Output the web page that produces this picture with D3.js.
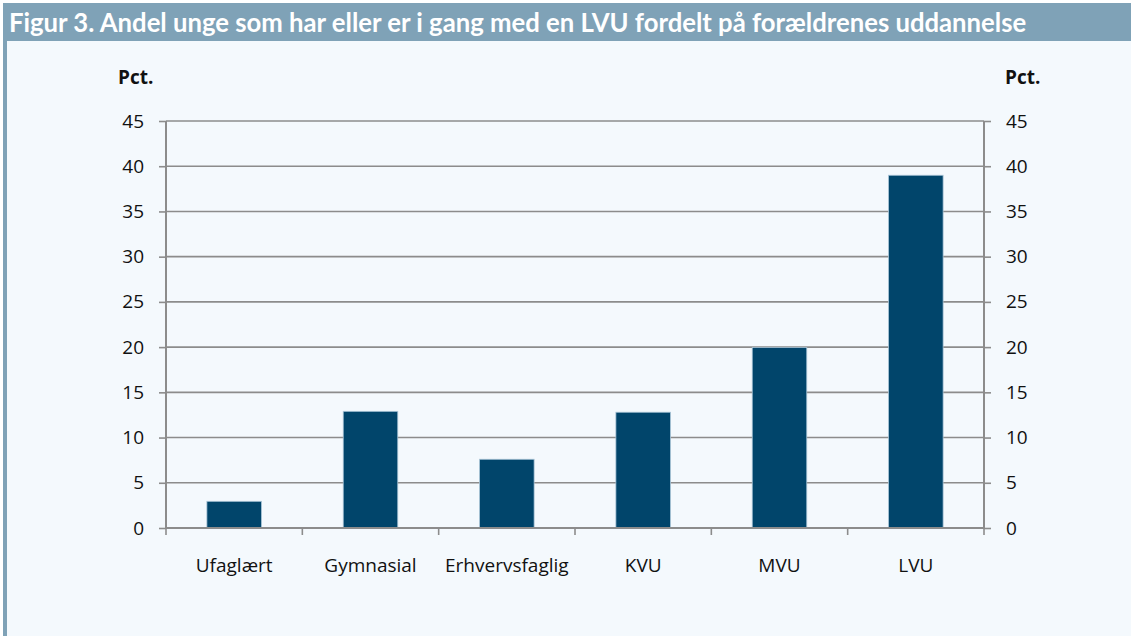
<!DOCTYPE html>
<html>
<head>
<meta charset="utf-8">
<script src="https://cdn.jsdelivr.net/npm/d3@7"></script>
<style>
  body { margin: 0; background: #fff; }
  svg { display: block; }
</style>
</head>
<body>
<svg id="chart" width="1131" height="636"></svg>
<script>
var categories = ["Ufaglært", "Gymnasial", "Erhvervsfaglig", "KVU", "MVU", "LVU"];
var values = [2.95, 12.9, 7.6, 12.8, 19.95, 39.0];
var yTicks = [0, 5, 10, 15, 20, 25, 30, 35, 40, 45];
var titleText = "Figur 3. Andel unge som har eller er i gang med en LVU fordelt på forældrenes uddannelse";
var unitLabel = "Pct.";

var svg = d3.select("#chart");
var W = 1131, H = 636;
var plotLeft = 166, plotRight = 984, plotTop = 121, plotBottom = 528;

// panel background + frame
svg.append("rect").attr("x", 3).attr("y", 3).attr("width", W - 3).attr("height", H - 3).attr("fill", "#f4f9fd");
svg.append("rect").attr("x", 3).attr("y", 3).attr("width", W - 3).attr("height", 38).attr("fill", "#7fa2b7");
svg.append("rect").attr("x", 3).attr("y", 41).attr("width", 4).attr("height", H - 41).attr("fill", "#7fa2b7");

svg.append("text")
    .attr("x", 9).attr("y", 32)
    .attr("fill", "#ffffff")
    .style("font-family", "Lato, 'Open Sans', sans-serif")
    .style("font-weight", "bold")
    .style("font-size", "25.7px")
    .text(titleText);

var x = d3.scaleBand().domain(categories).range([plotLeft, plotRight]).paddingInner(0.6).paddingOuter(0.3);
var y = d3.scaleLinear().domain([0, 45]).range([plotBottom, plotTop]);

// gridlines
svg.append("g").selectAll("line")
    .data(yTicks.filter(function(d) { return d > 0; }))
    .enter().append("line")
    .attr("x1", plotLeft).attr("x2", plotRight)
    .attr("y1", function(d) { return y(d); })
    .attr("y2", function(d) { return y(d); })
    .attr("stroke", "#8c8c8c")
    .attr("stroke-width", 1.6);

// bars
svg.append("g").selectAll("rect")
    .data(values)
    .enter().append("rect")
    .attr("x", function(d, i) { return x(categories[i]); })
    .attr("width", x.bandwidth())
    .attr("y", function(d) { return y(d); })
    .attr("height", function(d) { return y(0) - y(d); })
    .attr("fill", "#01456b")
    .attr("stroke", "#a9c4d6")
    .attr("stroke-width", 0.8);

var fontFam = "'Open Sans', 'Noto Sans', sans-serif";

var leftAxis = svg.append("g")
    .attr("transform", "translate(" + plotLeft + ",0)")
    .call(d3.axisLeft(y).tickValues(yTicks).tickSize(7).tickPadding(15));
var rightAxis = svg.append("g")
    .attr("transform", "translate(" + plotRight + ",0)")
    .call(d3.axisRight(y).tickValues(yTicks).tickSize(7).tickPadding(15));

[leftAxis, rightAxis].forEach(function(g) {
    g.select(".domain").attr("stroke", "#8c8c8c").attr("stroke-width", 2)
        .attr("d", "M0," + y(45) + "V" + (y(0) + 1));
    g.selectAll(".tick line").attr("stroke", "#8c8c8c").attr("stroke-width", 1.6);
    g.selectAll(".tick text")
        .attr("fill", "#111")
        .style("font-family", fontFam)
        .style("font-size", "19px");
});

// x axis baseline + category boundary ticks
var boundaries = [plotLeft].concat(categories.map(function(c, i) { return plotLeft + x.step() * (i + 1); }));
svg.append("line")
    .attr("x1", plotLeft).attr("x2", plotRight)
    .attr("y1", y(0)).attr("y2", y(0))
    .attr("stroke", "#8c8c8c").attr("stroke-width", 2);
svg.append("g").selectAll("line")
    .data(boundaries)
    .enter().append("line")
    .attr("x1", function(d) { return d; }).attr("x2", function(d) { return d; })
    .attr("y1", y(0)).attr("y2", y(0) + 7)
    .attr("stroke", "#8c8c8c").attr("stroke-width", 1.6);

svg.append("g").selectAll("text")
    .data(categories)
    .enter().append("text")
    .attr("x", function(d) { return x(d) + x.bandwidth() / 2; })
    .attr("y", 572)
    .attr("text-anchor", "middle")
    .attr("fill", "#111")
    .style("font-family", fontFam)
    .style("font-size", "19px")
    .text(function(d) { return d; });

// unit labels
svg.append("text").attr("x", 118).attr("y", 84)
    .attr("fill", "#111").style("font-family", fontFam).style("font-weight", "bold").style("font-size", "19px")
    .text(unitLabel);
svg.append("text").attr("x", 1005).attr("y", 84)
    .attr("fill", "#111").style("font-family", fontFam).style("font-weight", "bold").style("font-size", "19px")
    .text(unitLabel);
</script>
</body>
</html>
